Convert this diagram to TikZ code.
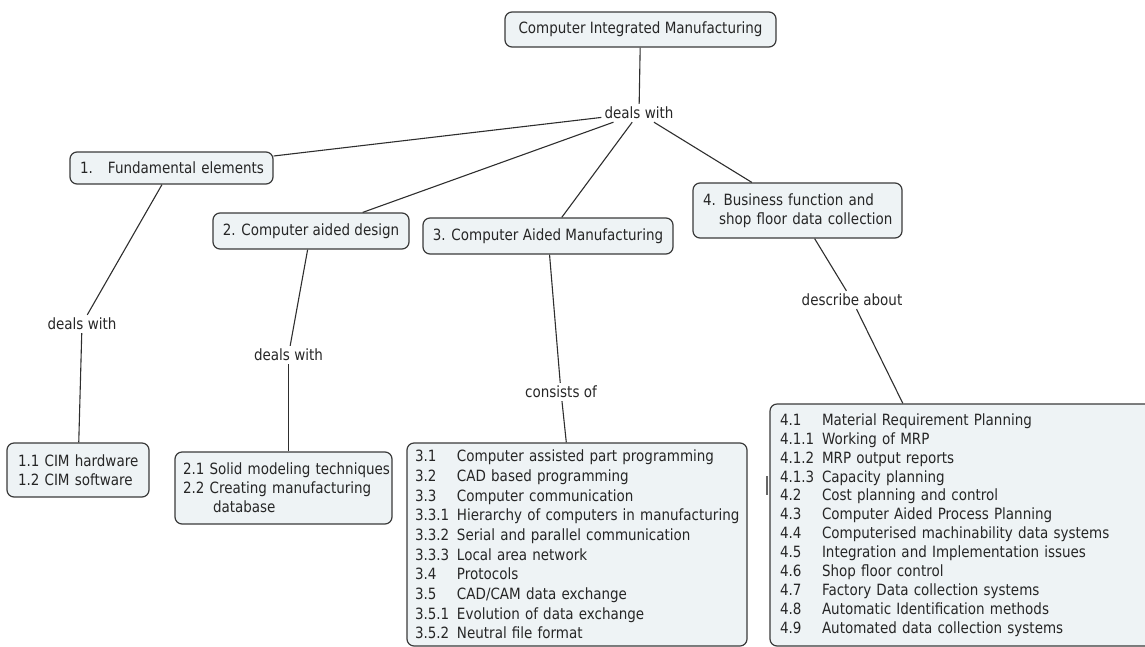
\documentclass[tikz,border=0pt]{standalone}
\usepackage{fontspec}
\setmainfont{DejaVu Sans}[FakeStretch=0.87]
\definecolor{boxfill}{HTML}{EEF3F5}
\definecolor{boxline}{HTML}{3A3A3A}
\definecolor{linkc}{HTML}{2E2E2E}
\definecolor{ink}{HTML}{262626}
% one unbreakable list line: number column, then the entry
\newcommand{\numitem}[2]{\mbox{\makebox[42pt][l]{#1}#2}}
\newcommand{\oneline}[1]{\mbox{#1}}
\begin{document}
\begin{tikzpicture}[x=1pt,y=-1pt,
  txt/.style={font=\fontsize{15.5}{19}\selectfont, text=ink},
  box/.style={txt, draw=boxline, fill=boxfill, rounded corners=7pt,
    line width=1.2pt, inner ysep=0pt},
  lbl/.style={txt, inner sep=3pt},
  link/.style={draw=linkc, line width=1.1pt}]
\clip (0,0) rectangle (1145,646);

% concept boxes
\node[box, minimum width=271pt, minimum height=35pt, inner xsep=0pt]
  (cim) at (640.5,29.5) {Computer Integrated Manufacturing};
\node[box, text width=183pt, inner xsep=10pt, minimum height=32pt, align=left]
  (b1) at (171.5,168) {\oneline{\makebox[28pt][l]{1.}Fundamental elements}};
\node[box, minimum width=196pt, minimum height=36pt, inner xsep=0pt]
  (b2) at (311,231) {2. Computer aided design};
\node[box, minimum width=250pt, minimum height=36pt, inner xsep=0pt]
  (b3) at (548,236) {3. Computer Aided Manufacturing};
\node[box, text width=189pt, inner xsep=10pt, minimum height=55pt, align=left]
  (b4) at (797.5,210.5) {\oneline{4. Business function and}\\
  \oneline{\hspace*{16pt}shop floor data collection}};

% detail boxes
\node[box, text width=120pt, inner xsep=11pt, minimum height=54pt, align=left]
  (b11) at (78,470) {\oneline{1.1 CIM hardware}\\\oneline{1.2 CIM software}};
\node[box, text width=201pt, inner xsep=8pt, minimum height=72pt, align=left]
  (b21) at (283.5,488) {\oneline{2.1 Solid modeling techniques}\\
  \oneline{2.2 Creating manufacturing}\\\oneline{\hspace*{30pt}database}};
\node[box, font=\fontsize{15.5}{19.7}\selectfont, text width=324pt, inner xsep=8pt,
  minimum height=203pt, align=left] (b3x) at (577,544.5)
  {\numitem{3.1}{Computer assisted part programming}\\
   \numitem{3.2}{CAD based programming}\\
   \numitem{3.3}{Computer communication}\\
   \numitem{3.3.1}{Hierarchy of computers in manufacturing}\\
   \numitem{3.3.2}{Serial and parallel communication}\\
   \numitem{3.3.3}{Local area network}\\
   \numitem{3.4}{Protocols}\\
   \numitem{3.5}{CAD/CAM data exchange}\\
   \numitem{3.5.1}{Evolution of data exchange}\\
   \numitem{3.5.2}{Neutral file format}};
\node[box, font=\fontsize{15.5}{18.9}\selectfont, text width=365pt, inner xsep=10pt,
  minimum height=242pt, align=left] (b4x) at (962.5,525)
  {\numitem{4.1}{Material Requirement Planning}\\
   \numitem{4.1.1}{Working of MRP}\\
   \numitem{4.1.2}{MRP output reports}\\
   \numitem{4.1.3}{Capacity planning}\\
   \numitem{4.2}{Cost planning and control}\\
   \numitem{4.3}{Computer Aided Process Planning}\\
   \numitem{4.4}{Computerised machinability data systems}\\
   \numitem{4.5}{Integration and Implementation issues}\\
   \numitem{4.6}{Shop floor control}\\
   \numitem{4.7}{Factory Data collection systems}\\
   \numitem{4.8}{Automatic Identification methods}\\
   \numitem{4.9}{Automated data collection systems}};

% linking phrases
\node[lbl] (dwA) at (639,113) {deals with};
\node[lbl] (dwB) at (82,324) {deals with};
\node[lbl] (dwC) at (288.5,355) {deals with};
\node[lbl] (cons) at (561,392) {consists of};
\node[lbl] (desc) at (852,300) {describe about};

% connectors
\draw[link] (cim) -- (dwA);
\draw[link] (dwA) -- (b1);
\draw[link] (dwA) -- (b2);
\draw[link] (dwA) -- (b3);
\draw[link] (dwA) -- (b4);
\draw[link] (b1) -- (dwB);
\draw[link] (dwB) -- (b11);
\draw[link] (b2) -- (dwC);
\draw[link] (dwC) -- (dwC |- b21.north);
\draw[link] (b3) -- (cons);
\draw[link] (cons) -- (b3x);
\draw[link] (b4) -- (desc);
\draw[link] (desc) -- (b4x);

% short mark beside the last box
\draw[draw=gray!80!black, line width=1.5pt] (767,476) -- (767,495);
\end{tikzpicture}
\end{document}
